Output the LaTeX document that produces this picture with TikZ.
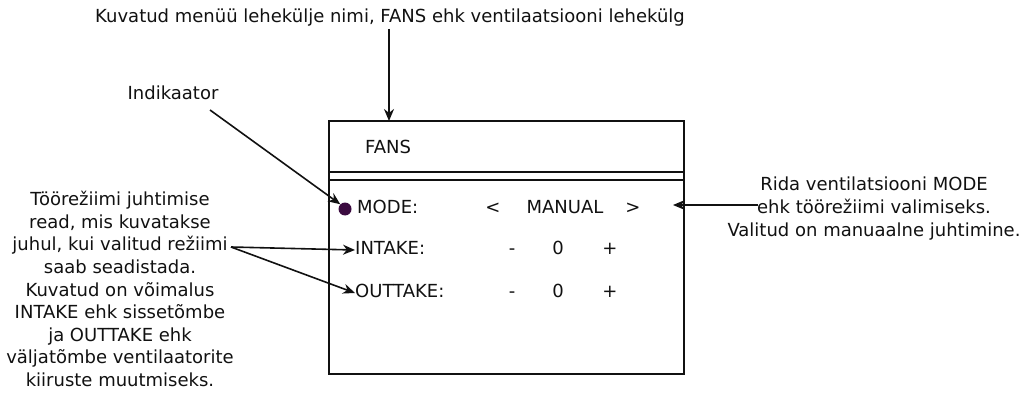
\documentclass[tikz,border=0pt]{standalone}
\usepackage{fontspec}
\setmainfont{DejaVu Sans}
\usetikzlibrary{arrows.meta}
\definecolor{txt}{HTML}{111111}
\definecolor{dotc}{HTML}{3B0B40}
\tikzset{
  lbl/.style={font=\fontsize{18}{22.6}\selectfont, text=txt, inner sep=0pt},
  one/.style={lbl, text height=13pt, text depth=4pt},
  arr/.style={line width=1.6pt, draw=txt, -{Stealth[length=12pt,width=10pt]}},
  frame/.style={line width=1.8pt, draw=txt}
}
\begin{document}
\begin{tikzpicture}[x=1pt,y=-1pt]
\useasboundingbox (0,0) rectangle (1032,398);
% screen box
\draw[frame] (329,121) rectangle (684,374);
\draw[frame] (329,172) -- (684,172);
\draw[frame] (329,180) -- (684,180);
\coordinate (boxtop) at (389,121);
% screen contents
\node[one, anchor=west] (fans) at (365,149) {FANS};
\node[circle, fill=dotc, minimum size=13pt, inner sep=0pt] (dot) at (345,209) {};
\node[one, anchor=west] (mode) at (357,209) {MODE:};
\node[one] (lt) at (493,209) {<};
\node[one] (manual) at (565,209) {MANUAL};
\node[one] (gt) at (633,209) {>};
\node[one, anchor=west] (intake) at (355,250) {INTAKE:};
\node[one] (im) at (512,250) {-};
\node[one] (iz) at (558,250) {0};
\node[one] (ip) at (610,250) {+};
\node[one, anchor=west] (outtake) at (355,293) {OUTTAKE:};
\node[one] (om) at (512,293) {-};
\node[one] (oz) at (558,293) {0};
\node[one] (op) at (610,293) {+};
% annotations
\node[one] (toptext) at (390,18) {Kuvatud menüü lehekülje nimi, FANS ehk ventilaatsiooni lehekülg};
\node[one] (indik) at (173,95) {Indikaator};
\node[lbl, align=center, anchor=north] (lefttext) at (120,191) {Töörežiimi juhtimise\\read, mis kuvatakse\\juhul, kui valitud režiimi\\saab seadistada.\\Kuvatud on võimalus\\INTAKE ehk sissetõmbe\\ja OUTTAKE ehk\\väljatõmbe ventilaatorite\\kiiruste muutmiseks.};
\node[lbl, align=center, anchor=north] (righttext) at (874,177) {Rida ventilatsiooni MODE\\ehk töörežiimi valimiseks.\\Valitud on manuaalne juhtimine.};
\coordinate (topfrom) at (389,29);
\coordinate (indfrom) at (210,110);
\coordinate (leftfrom) at (231,247);
\coordinate (rightfrom) at (758,205);
\coordinate (modeto) at (673,205);
% connectors
\draw[arr] (topfrom) -- (boxtop);
\draw[arr] (indfrom) -- (dot.north west);
\draw[arr] (leftfrom) -- (intake.west);
\draw[arr] (leftfrom) -- (outtake.west);
\draw[arr] (rightfrom) -- (modeto);
\end{tikzpicture}
\end{document}
